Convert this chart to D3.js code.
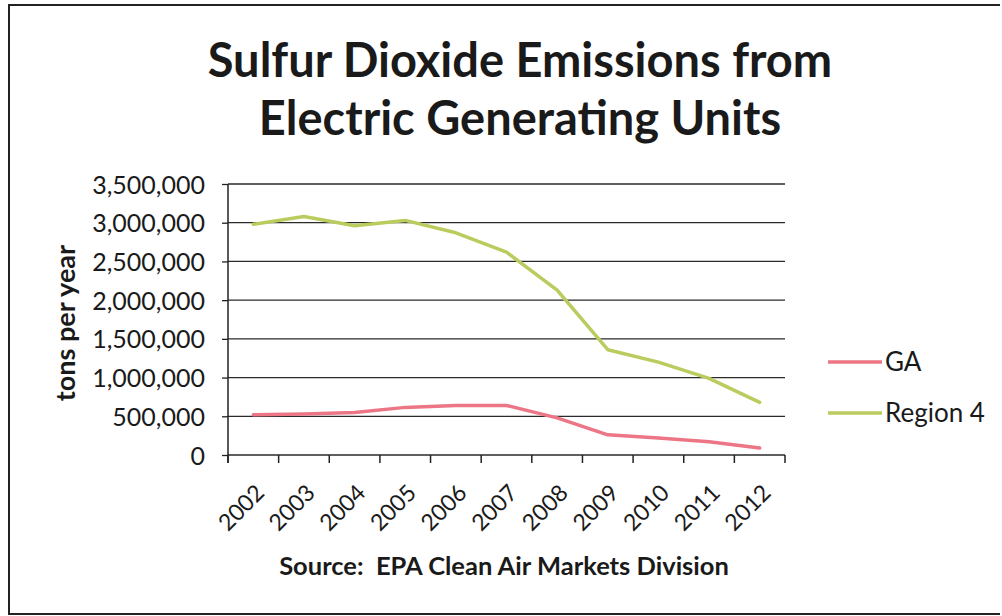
<!DOCTYPE html>
<html>
<head>
<meta charset="utf-8">
<script src="https://cdn.jsdelivr.net/npm/d3@7/dist/d3.min.js"></script>
<style>
  html, body { margin: 0; padding: 0; background: #fff; }
  svg { display: block; }
  text { font-family: Lato, "Open Sans", sans-serif; fill: #1a1a1a; }
</style>
</head>
<body>
<svg id="chart" width="1002" height="616"></svg>
<script>
// Annual SO2 emissions from electric generating units (tons per year)
const years = ["2002", "2003", "2004", "2005", "2006", "2007", "2008", "2009", "2010", "2011", "2012"];
const gaValues = [520000, 530000, 550000, 615000, 640000, 640000, 480000, 260000, 220000, 170000, 90000];
const region4Values = [2980000, 3080000, 2960000, 3030000, 2870000, 2620000, 2130000, 1360000, 1200000, 990000, 680000];
const yTicks = [0, 500000, 1000000, 1500000, 2000000, 2500000, 3000000, 3500000];
const seriesNames = ["GA", "Region 4"];
const seriesColors = ["#ec7685", "#bccb5e"];
const titleLines = ["Sulfur Dioxide Emissions from", "Electric Generating Units"];
const yAxisTitle = "tons per year";
const sourceNote = "Source:  EPA Clean Air Markets Division";

const svg = d3.select("#chart");
const plot = { left: 228, right: 785, top: 184, bottom: 455 };

// Outer frame
svg.append("path")
  .attr("d", `M1000,5 H9 V614 H1000`)
  .attr("fill", "none").attr("stroke", "#222").attr("stroke-width", 2);

// Title
svg.append("text")
  .attr("text-anchor", "middle")
  .attr("font-weight", 700).attr("font-size", 47)
  .selectAll("tspan").data(titleLines).join("tspan")
  .attr("x", 520).attr("y", (d, i) => 77 + i * 58).text(d => d);

// Scales
const x = d3.scaleBand().domain(years).range([plot.left, plot.right]).paddingInner(0).paddingOuter(0);
const y = d3.scaleLinear().domain([0, 3500000]).range([plot.bottom, plot.top]);
const xc = d => x(d) + x.bandwidth() / 2;

// Horizontal gridlines
svg.append("g").selectAll("line").data(yTicks).join("line")
  .attr("x1", plot.left).attr("x2", plot.right)
  .attr("y1", d => y(d)).attr("y2", d => y(d))
  .attr("stroke", "#2a2a2a").attr("stroke-width", 1.3);

// Y axis
const yAxis = svg.append("g")
  .attr("transform", `translate(${plot.left},0)`)
  .call(d3.axisLeft(y).tickValues(yTicks).tickSize(6).tickPadding(17).tickFormat(d3.format(",")));
yAxis.select(".domain").attr("stroke", "#222").attr("stroke-width", 1.5)
  .attr("d", `M0,${plot.top}V${plot.bottom + 8}`);
yAxis.selectAll(".tick line").attr("stroke", "#222").attr("stroke-width", 1.3);
yAxis.selectAll(".tick text")
  .attr("font-family", "Lato, sans-serif").attr("font-size", 25).attr("fill", "#1a1a1a")
  .attr("dy", "0.36em");

// X axis: ticks on category boundaries, rotated year labels
const edges = years.map(d => x(d)).concat([plot.right]);
const xAxis = svg.append("g").attr("transform", `translate(0,${plot.bottom})`);
xAxis.selectAll("line.tk").data(edges).join("line").attr("class", "tk")
  .attr("x1", d => d).attr("x2", d => d).attr("y1", 0).attr("y2", 8)
  .attr("stroke", "#222").attr("stroke-width", 1.5);
xAxis.selectAll("text").data(years).join("text")
  .attr("transform", d => `translate(${xc(d) + 1},${28}) rotate(-45)`)
  .attr("text-anchor", "end").attr("dy", "0.7em")
  .attr("font-size", 23).text(d => d);

// Series lines
const line = d3.line().x((d, i) => xc(years[i])).y(d => y(d));
[gaValues, region4Values].forEach((vals, k) => {
  svg.append("path").datum(vals)
    .attr("d", line).attr("fill", "none")
    .attr("stroke", seriesColors[k]).attr("stroke-width", 3.5)
    .attr("stroke-linejoin", "round").attr("stroke-linecap", "round");
});

// Y axis title
svg.append("text")
  .attr("transform", "translate(75,323) rotate(-90)")
  .attr("text-anchor", "middle").attr("font-weight", 700).attr("font-size", 27)
  .text(yAxisTitle);

// Legend
const legend = svg.append("g").selectAll("g").data(seriesNames).join("g")
  .attr("transform", (d, i) => `translate(828,${362 + i * 51})`);
legend.append("line").attr("x1", 0).attr("x2", 54).attr("y1", 0).attr("y2", 0)
  .attr("stroke", (d, i) => seriesColors[i]).attr("stroke-width", 3.5);
legend.append("text").attr("x", 57).attr("dy", "0.36em")
  .attr("font-size", 26).text(d => d);

// Source note
svg.append("text")
  .attr("x", 504).attr("y", 575).attr("text-anchor", "middle")
  .attr("font-weight", 700).attr("font-size", 25.5)
  .style("white-space", "pre")
  .text(sourceNote);
</script>
</body>
</html>
